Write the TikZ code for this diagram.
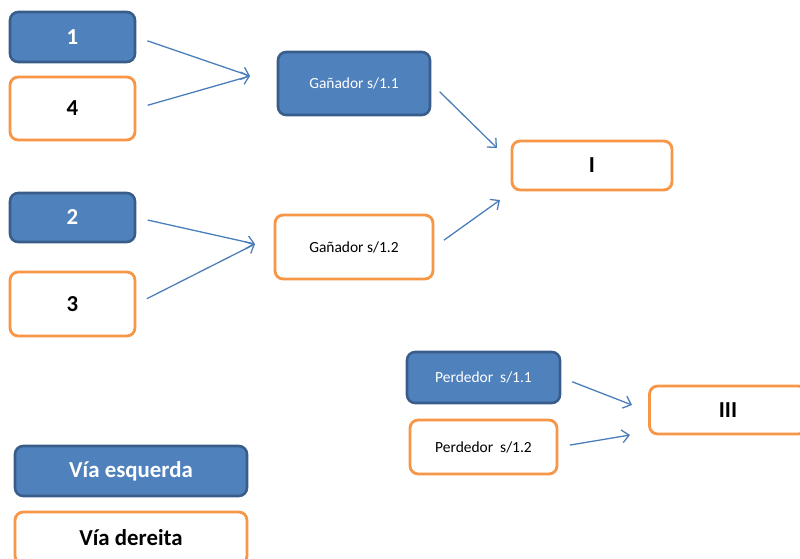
\documentclass[tikz,border=0pt]{standalone}
\usepackage{fontspec}
\usetikzlibrary{arrows.meta}
\setmainfont{Carlito}
\definecolor{azul}{HTML}{4F81BD}
\definecolor{azulbordo}{HTML}{385D8A}
\definecolor{laranxa}{HTML}{F79646}
\definecolor{frecha}{HTML}{4A7EBB}
\begin{document}
\begin{tikzpicture}[x=0.3mm,y=-0.3mm,>={Straight Barb[length=6pt,width=11pt]},
        esq/.style={draw=azulbordo,fill=azul,text=white,line width=2.2pt,rounded corners=7pt,inner sep=0pt},
        der/.style={draw=laranxa,fill=white,text=black,line width=2.4pt,rounded corners=7pt,inner sep=0pt},
        num/.style={font=\fontsize{19.5}{22}\selectfont\bfseries},
        txt/.style={font=\fontsize{13.2}{15}\selectfont},
        conn/.style={->,draw=frecha,line width=1.1pt,shorten <=10pt}]
                \useasboundingbox (0,0) rectangle (800,558);
                \node[esq,num,minimum width=125*0.3mm,minimum height=50*0.3mm](1) at (72.5,37){1};
                \node[der,num,minimum width=125*0.3mm,minimum height=63*0.3mm](4) at (72.5,108.5){4};
                \node[esq,num,minimum width=125*0.3mm,minimum height=49*0.3mm](2) at (72.5,217.5){2};
                \node[der,num,minimum width=125*0.3mm,minimum height=64*0.3mm](3) at (72.5,304){3};
                \node[esq,txt,minimum width=152*0.3mm,minimum height=63*0.3mm](g1) at (354,83.5){Gañador s/1.1};
                \node[der,txt,minimum width=158*0.3mm,minimum height=64*0.3mm](g2) at (354,247){Gañador s/1.2};
                \node[der,num,minimum width=160*0.3mm,minimum height=49*0.3mm](I) at (592,165.5){I};
                \node[esq,txt,minimum width=153*0.3mm,minimum height=51*0.3mm](p1) at (483.5,377.5){Perdedor\ \ s/1.1};
                \node[der,txt,minimum width=147*0.3mm,minimum height=54*0.3mm](p2) at (483.5,447){Perdedor\ \ s/1.2};
                \node[der,num,minimum width=157*0.3mm,minimum height=48*0.3mm](III) at (728,410){III};
                \node[esq,num,minimum width=232*0.3mm,minimum height=50*0.3mm](ve) at (131,471){Vía esquerda};
                \node[der,num,minimum width=232*0.3mm,minimum height=52*0.3mm](vd) at (131,538){Vía dereita};
                \coordinate (g1in) at (250,76);
                \coordinate (g2in) at (255,244);
                \coordinate (Iarr) at (497,148);
                \coordinate (Iaba) at (500,200);
                \coordinate (IIIarr) at (632,405);
                \coordinate (IIIaba) at (630,435);
                \draw[conn](1.east) -- (g1in);
                \draw[conn](4.east) -- (g1in);
                \draw[conn](2.east) -- (g2in);
                \draw[conn](3.east) -- (g2in);
                \draw[conn](g1.east) -- (Iarr);
                \draw[conn](g2.east) -- (Iaba);
                \draw[conn](p1.east) -- (IIIarr);
                \draw[conn](p2.east) -- (IIIaba);
            \end{tikzpicture}
\end{document}
